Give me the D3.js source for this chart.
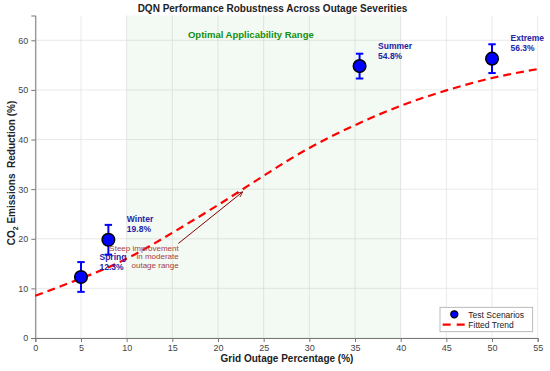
<!DOCTYPE html>
<html>
<head>
<meta charset="utf-8">
<script src="https://cdn.jsdelivr.net/npm/d3@7"></script>
<style>
  body { margin: 0; background: #fff; }
  text { font-family: Arial, "Liberation Sans", sans-serif; }
</style>
</head>
<body>
<div id="chart"></div>
<script>
// test scenarios
var scenarios = ["Spring", "Winter", "Summer", "Extreme"];
var outagePct = [5, 8, 35.5, 50];
var co2Reduction = [12.3, 19.8, 54.8, 56.3];
var errBars = [3, 3, 2.5, 2.9];

// fitted trend
var trendX = [0, 5, 10, 15, 20, 25, 30, 35, 40, 45, 50, 55];
var trendY = [8.5, 12.0, 16.0, 21.2, 26.8, 32.7, 38.3, 42.9, 46.8, 49.9, 52.4, 54.2];

var xTicks = [0, 5, 10, 15, 20, 25, 30, 35, 40, 45, 50, 55];
var yTicks = [0, 10, 20, 30, 40, 50, 60];
var optimalRange = [10, 40];

var margin = { top: 15.5, right: 12.3, bottom: 33, left: 35.3 },
    width = 550 - margin.left - margin.right,
    height = 371 - margin.top - margin.bottom;

var svg = d3
    .select("#chart")
    .append("svg")
    .attr("width", 550)
    .attr("height", 371);

var g = svg
    .append("g")
    .attr("transform", "translate(" + margin.left + "," + margin.top + ")");

var x = d3.scaleLinear().domain([0, 55]).range([0, width]);
var y = d3.scaleLinear().domain([0, 65]).range([height, 0]);

// grid
g.append("g")
    .selectAll("line")
    .data(xTicks)
    .enter()
    .append("line")
    .attr("x1", function (d) { return x(d); })
    .attr("x2", function (d) { return x(d); })
    .attr("y1", 0)
    .attr("y2", height)
    .style("stroke", "#e3e3e3")
    .style("stroke-width", 0.8);

g.append("g")
    .selectAll("line")
    .data(yTicks)
    .enter()
    .append("line")
    .attr("x1", 0)
    .attr("x2", width)
    .attr("y1", function (d) { return y(d); })
    .attr("y2", function (d) { return y(d); })
    .style("stroke", "#e3e3e3")
    .style("stroke-width", 0.8);

// optimal range shading
g.append("rect")
    .attr("x", x(optimalRange[0]))
    .attr("y", 0)
    .attr("width", x(optimalRange[1]) - x(optimalRange[0]))
    .attr("height", height)
    .style("fill", "#2ca02c")
    .style("opacity", 0.06);

g.append("text")
    .attr("x", x(23.6))
    .attr("y", y(60.5))
    .attr("text-anchor", "middle")
    .style("font-size", "9.5px")
    .style("font-weight", "bold")
    .style("fill", "#119011")
    .text("Optimal Applicability Range");

// axes
var xAxis = g.append("g")
    .attr("transform", "translate(0," + height + ")")
    .call(d3.axisBottom(x).tickValues(xTicks).tickSize(4).tickPadding(3));
var yAxis = g.append("g")
    .call(d3.axisLeft(y).tickValues(yTicks).tickSize(4).tickPadding(3));

[xAxis, yAxis].forEach(function (a) {
    a.select(".domain").style("stroke", "#777");
    a.selectAll(".tick line").style("stroke", "#777");
    a.selectAll(".tick text")
        .style("fill", "#444")
        .style("font-size", "9px")
        .style("font-family", "Arial, 'Liberation Sans', sans-serif");
});

// fitted trend
var line = d3.line()
    .x(function (d) { return x(d[0]); })
    .y(function (d) { return y(d[1]); })
    .curve(d3.curveNatural);

g.append("path")
    .datum(d3.zip(trendX, trendY))
    .attr("d", line)
    .style("fill", "none")
    .style("stroke", "#ff0000")
    .style("stroke-width", 2.2)
    .style("stroke-dasharray", "8,5");

// error bars
var pts = scenarios.map(function (s, i) {
    return { name: s, x: outagePct[i], y: co2Reduction[i], e: errBars[i] };
});

var eb = g.append("g").selectAll("g").data(pts).enter().append("g");
eb.append("line")
    .attr("x1", function (d) { return x(d.x); })
    .attr("x2", function (d) { return x(d.x); })
    .attr("y1", function (d) { return y(d.y - d.e); })
    .attr("y2", function (d) { return y(d.y + d.e); })
    .style("stroke", "#0000ff")
    .style("stroke-width", 2);
[-1, 1].forEach(function (s) {
    eb.append("line")
        .attr("x1", function (d) { return x(d.x) - 3.7; })
        .attr("x2", function (d) { return x(d.x) + 3.7; })
        .attr("y1", function (d) { return y(d.y + s * d.e); })
        .attr("y2", function (d) { return y(d.y + s * d.e); })
        .style("stroke", "#0000ff")
        .style("stroke-width", 2);
});

g.append("g")
    .selectAll("circle")
    .data(pts)
    .enter()
    .append("circle")
    .attr("cx", function (d) { return x(d.x); })
    .attr("cy", function (d) { return y(d.y); })
    .attr("r", 6.3)
    .style("fill", "#0000ff")
    .style("stroke", "#000")
    .style("stroke-width", 1.5);

// point labels
var lab = g.append("g")
    .selectAll("text")
    .data(pts)
    .enter()
    .append("text")
    .attr("x", function (d) { return x(d.x) + 18.5; })
    .attr("y", function (d) { return y(d.y) - 17.3; })
    .style("font-size", "8.5px")
    .style("font-weight", "bold")
    .style("fill", "#2323a6");
lab.append("tspan").text(function (d) { return d.name; });
lab.append("tspan")
    .attr("x", function (d) { return x(d.x) + 18.5; })
    .attr("dy", 10)
    .text(function (d) { return d.y.toFixed(1) + "%"; });

// annotation arrow
svg.append("defs")
    .append("marker")
    .attr("id", "arrow")
    .attr("viewBox", "0 0 10 10")
    .attr("refX", 9)
    .attr("refY", 5)
    .attr("markerWidth", 6)
    .attr("markerHeight", 6)
    .attr("orient", "auto")
    .append("path")
    .attr("d", "M0,1 L9,5 L0,9")
    .style("fill", "none")
    .style("stroke", "#800000")
    .style("stroke-width", 1.3);

g.append("line")
    .attr("x1", x(15.66))
    .attr("y1", y(19.05))
    .attr("x2", x(22.7))
    .attr("y2", y(29.45))
    .style("stroke", "#800000")
    .style("stroke-width", 1)
    .attr("marker-end", "url(#arrow)");

var ann = g.append("text")
    .attr("text-anchor", "end")
    .style("font-size", "8px")
    .style("fill", "#a8403f");
["Steep improvement", "in moderate", "outage range"].forEach(function (t, i) {
    ann.append("tspan")
        .attr("x", x(15.7))
        .attr("y", y(17.6) + i * 8.6)
        .text(t);
});

// legend
var lg = svg.append("g").attr("transform", "translate(440,307.3)");
lg.append("rect")
    .attr("width", 92.7)
    .attr("height", 24.4)
    .style("fill", "#fff")
    .style("stroke", "#aaa")
    .style("stroke-width", 0.8);
lg.append("circle")
    .attr("cx", 14.3)
    .attr("cy", 7)
    .attr("r", 3.5)
    .style("fill", "#0000ff")
    .style("stroke", "#000")
    .style("stroke-width", 1.3);
lg.append("line")
    .attr("x1", 2.7)
    .attr("x2", 25)
    .attr("y1", 17.4)
    .attr("y2", 17.4)
    .style("stroke", "#ff0000")
    .style("stroke-width", 2.2)
    .style("stroke-dasharray", "8,6");
lg.append("text").attr("x", 28.3).attr("y", 10.3)
    .style("font-size", "8.5px").style("fill", "#222").text("Test Scenarios");
lg.append("text").attr("x", 28.3).attr("y", 20.5)
    .style("font-size", "8.5px").style("fill", "#222").text("Fitted Trend");

// titles
svg.append("text")
    .attr("x", 272.5)
    .attr("y", 12)
    .attr("text-anchor", "middle")
    .style("font-size", "10px")
    .style("font-weight", "bold")
    .style("fill", "#222")
    .text("DQN Performance Robustness Across Outage Severities");

svg.append("text")
    .attr("x", 287)
    .attr("y", 362)
    .attr("text-anchor", "middle")
    .style("font-size", "10px")
    .style("font-weight", "bold")
    .style("fill", "#222")
    .text("Grid Outage Percentage (%)");

var yl = svg.append("text")
    .attr("transform", "translate(15,173) rotate(-90)")
    .attr("text-anchor", "middle")
    .style("font-size", "10px")
    .style("font-weight", "bold")
    .style("fill", "#222");
yl.append("tspan").text("CO");
yl.append("tspan").attr("dy", 2.5).style("font-size", "7px").text("2");
yl.append("tspan").attr("dy", -2.5).text("\u00a0Emissions\u00a0\u00a0Reduction (%)");
</script>
</body>
</html>
